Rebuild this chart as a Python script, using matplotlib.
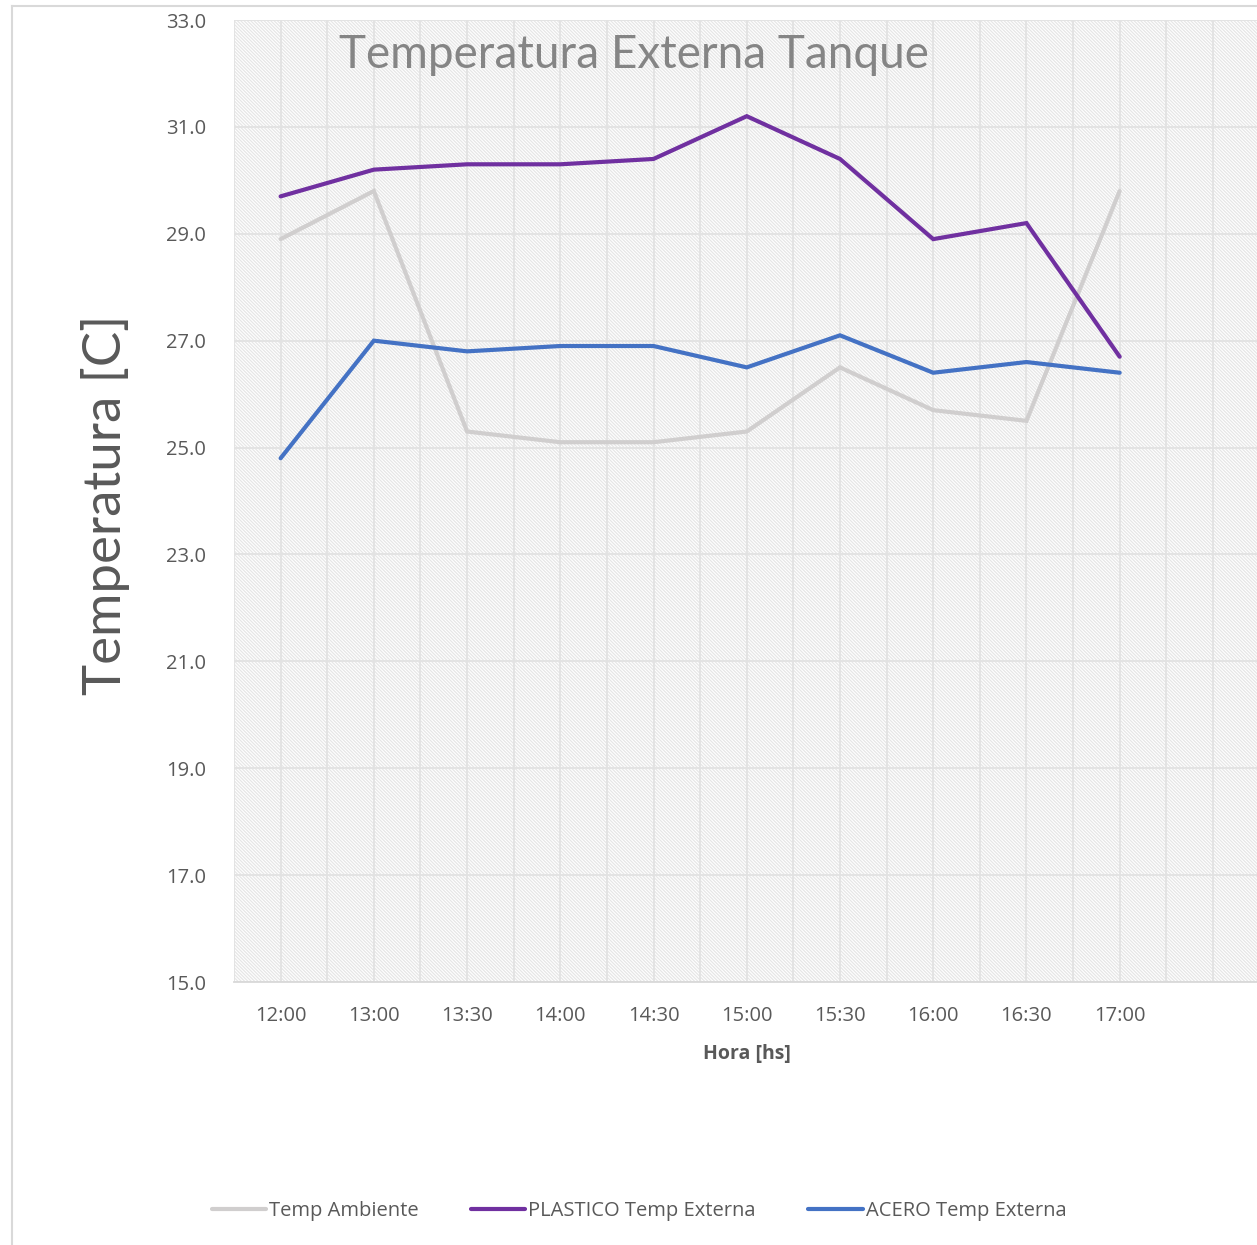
import matplotlib
matplotlib.use('Agg')
import matplotlib.pyplot as plt
from matplotlib.patches import Rectangle
from matplotlib.lines import Line2D

plt.rcParams['hatch.linewidth'] = 0.9

hours = ['12:00', '13:00', '13:30', '14:00', '14:30', '15:00', '15:30', '16:00', '16:30', '17:00', '']
temp_ambiente = [28.9, 29.8, 25.3, 25.1, 25.1, 25.3, 26.5, 25.7, 25.5, 29.8]
plastico_ext = [29.7, 30.2, 30.3, 30.3, 30.4, 31.2, 30.4, 28.9, 29.2, 26.7]
acero_ext = [24.8, 27.0, 26.8, 26.9, 26.9, 26.5, 27.1, 26.4, 26.6, 26.4]
y_ticks = [15.0, 17.0, 19.0, 21.0, 23.0, 25.0, 27.0, 29.0, 31.0, 33.0]

series = [
    ('Temp Ambiente', temp_ambiente, '#d0cece'),
    ('PLASTICO Temp Externa', plastico_ext, '#7030a0'),
    ('ACERO Temp Externa', acero_ext, '#4472c4'),
]

W, H = 1257, 1245
fig = plt.figure(figsize=(W / 100, H / 100), dpi=100)

# chart area border (only left/top visible in the crop)
fig.add_artist(Line2D([12 / W, 12 / W], [0, 1 - 6 / H], color='#d9d9d9', lw=1.5))
fig.add_artist(Line2D([12 / W, 1], [1 - 6 / H, 1 - 6 / H], color='#d9d9d9', lw=1.5))

ax = fig.add_axes([234 / W, 1 - 982 / H, 1 - 234 / W + 0.002, 962 / H])

# hatched plot area background
ax.add_patch(Rectangle((0, 0), 1, 1, transform=ax.transAxes, facecolor='white',
                       edgecolor='#e6e6e6', hatch='\\' * 10, lw=0, zorder=0))

x = list(range(len(hours)))
for name, vals, col in series:
    ax.plot(x[:len(vals)], vals, color=col, lw=3.0, label=name,
            solid_capstyle='round', solid_joinstyle='miter', zorder=3)

ax.set_xlim(-0.5, len(hours) - 0.5)
ax.set_ylim(15, 33)
ax.set_yticks(y_ticks)
ax.set_yticklabels([f'{v:.1f}' for v in y_ticks])
ax.set_xticks(x)
ax.set_xticklabels(hours)

# gridlines: horizontal at major ticks, vertical every half category
for v in y_ticks:
    ax.axhline(v, color='#e2e2e2', lw=1.3, zorder=1)
k = -0.5
while k <= len(hours) - 0.5 + 1e-9:
    ax.axvline(k, color='#e2e2e2', lw=1.3, zorder=1)
    k += 0.5

for s in ['top', 'right', 'left']:
    ax.spines[s].set_visible(False)
ax.spines['bottom'].set_color('#d9d9d9')
ax.spines['bottom'].set_linewidth(1.3)
ax.tick_params(length=0, labelsize=14.5, colors='#595959', labelcolor='#595959')
ax.tick_params(axis='y', pad=20)
ax.tick_params(axis='x', pad=17)
for lab in ax.get_xticklabels() + ax.get_yticklabels():
    lab.set_fontfamily('Open Sans')

ax.set_xlabel('Hora [hs]', fontsize=14, fontweight='bold', color='#595959',
              family='Open Sans', labelpad=13)

fig.text(105 / W, 1 - 505 / H, 'Temperatura [C]', rotation=90, ha='center', va='center',
         fontsize=38, color='#595959', family='Lato')
fig.text(634 / W, 1 - 55 / H, 'Temperatura Externa Tanque', ha='center', va='center',
         fontsize=33, color='#858585', family='Lato')

leg = fig.legend(loc='center', bbox_to_anchor=(639 / W, 1 - 1211 / H), ncol=3,
                 frameon=False, handlelength=2.7, columnspacing=2.6, handletextpad=0.15,
                 prop={'family': 'Open Sans', 'size': 14.5})
for t in leg.get_texts():
    t.set_color('#595959')

fig.savefig('out.png', dpi=100)
